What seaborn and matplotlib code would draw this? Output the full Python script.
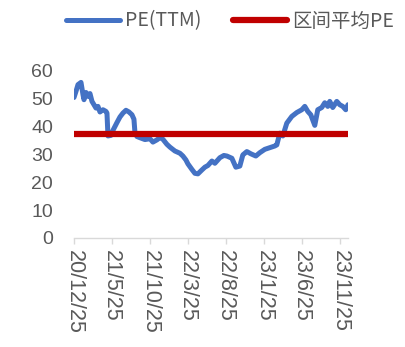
import matplotlib
matplotlib.use("Agg")
import matplotlib.pyplot as plt
from matplotlib.lines import Line2D
from matplotlib.font_manager import FontProperties
import seaborn as sns
import pandas as pd

# PE (TTM) observations
dates = [
    "2020-12-25", "2021-01-02", "2021-01-10", "2021-01-22", "2021-01-30", "2021-02-03",
    "2021-02-11", "2021-02-19", "2021-02-27", "2021-03-07", "2021-03-15", "2021-03-23",
    "2021-03-31", "2021-04-08", "2021-04-20", "2021-05-02", "2021-05-06", "2021-05-10",
    "2021-05-22", "2021-05-30", "2021-06-15", "2021-06-27", "2021-07-09", "2021-07-21",
    "2021-08-02", "2021-08-14", "2021-08-22", "2021-08-26", "2021-09-03", "2021-09-14",
    "2021-10-05", "2021-10-25", "2021-11-06", "2021-11-22", "2021-12-04", "2021-12-16",
    "2022-01-01", "2022-01-13", "2022-02-02", "2022-02-22", "2022-03-06", "2022-03-18",
    "2022-03-26", "2022-04-11", "2022-04-23", "2022-05-05", "2022-05-21", "2022-06-02",
    "2022-06-14", "2022-06-30", "2022-07-12", "2022-08-01", "2022-08-17", "2022-08-29",
    "2022-09-18", "2022-10-04", "2022-10-20", "2022-11-01", "2022-11-17", "2022-12-03",
    "2022-12-23", "2023-01-08", "2023-01-28", "2023-02-17", "2023-03-09", "2023-03-17",
    "2023-03-29", "2023-04-10", "2023-04-26", "2023-05-16", "2023-06-05", "2023-06-25",
    "2023-07-07", "2023-07-19", "2023-07-31", "2023-08-16", "2023-08-28", "2023-09-13",
    "2023-09-25", "2023-10-07", "2023-10-15", "2023-10-27", "2023-11-12", "2023-11-24",
    "2023-12-06", "2023-12-18", "2023-12-27",
]
pe_ttm = [
    50.4, 52.6, 55.0, 55.8, 51.4, 49.6,
    52.2, 50.8, 51.8, 49.0, 47.8, 46.6,
    47.2, 45.2, 46.0, 45.4, 44.8, 36.6,
    36.8, 38.6, 41.4, 43.4, 44.8, 45.8,
    45.2, 44.2, 42.6, 37.8, 36.4, 36.0,
    35.3, 35.6, 34.4, 35.2, 36.0, 35.4,
    33.6, 32.6, 31.2, 30.4, 29.4, 28.0,
    26.6, 24.6, 23.2, 23.0, 24.4, 25.4,
    26.0, 27.6, 26.8, 28.8, 29.6, 29.4,
    28.6, 25.4, 25.8, 29.8, 31.0, 30.2,
    29.4, 30.6, 31.8, 32.4, 33.0, 33.4,
    37.6, 36.6, 41.2, 43.6, 45.0, 46.0,
    47.2, 45.4, 44.2, 40.4, 46.0, 46.8,
    48.5, 47.2, 49.0, 46.8, 49.0, 47.8,
    47.2, 46.0, 47.8,
]
avg_pe = 37.4

tick_dates = ["2020-12-25", "2021-05-25", "2021-10-25", "2022-03-25",
              "2022-08-25", "2023-01-25", "2023-06-25", "2023-11-25"]
tick_labels = ["20/12/25", "21/5/25", "21/10/25", "22/3/25",
               "22/8/25", "23/1/25", "23/6/25", "23/11/25"]
y_ticks = [0, 10, 20, 30, 40, 50, 60]

series_names = ["PE(TTM)", "区间平均PE"]
colors = ["#4472C4", "#C00000"]

df = pd.DataFrame({"date": pd.to_datetime(dates), "pe": pe_ttm})
df["avg"] = avg_pe

sns.set_style("white")
plt.rcParams["font.family"] = ["Liberation Sans", "DejaVu Sans"]
text_color = "#595959"

W, H = 406, 347
fig = plt.figure(figsize=(W / 100, H / 100), dpi=100)
ax = fig.add_axes([74 / W, 1 - 238 / H, (348 - 74) / W, (238 - 70.7) / H])

sns.lineplot(data=df, x="date", y="pe", ax=ax, color=colors[0], lw=3.6,
             solid_capstyle="round", solid_joinstyle="round", legend=False)
sns.lineplot(data=df, x="date", y="avg", ax=ax, color=colors[1], lw=4.5,
             solid_capstyle="butt", legend=False)

ax.set_xlim(df["date"].iloc[0], df["date"].iloc[-1])
ax.set_ylim(0, 60)
ax.set_yticks(y_ticks)
ax.set_xticks(pd.to_datetime(tick_dates))
ax.set_xticklabels(tick_labels, rotation=270, ha="center", va="top")
ax.set_xlabel("")
ax.set_ylabel("")

for side in ["top", "right", "left"]:
    ax.spines[side].set_visible(False)
ax.spines["bottom"].set_color("#D9D9D9")
ax.spines["bottom"].set_linewidth(1.0)

ax.tick_params(axis="x", bottom=True, length=4.5, width=1.0, color="#D9D9D9",
               labelsize=15.5, labelcolor=text_color, pad=4)
ax.tick_params(axis="y", left=False, length=0, labelsize=14,
               labelcolor=text_color, pad=15)

handles = [
    Line2D([], [], color=colors[0], lw=3.6, solid_capstyle="round"),
    Line2D([], [], color=colors[1], lw=4.5, solid_capstyle="round"),
]
fig.legend(handles, series_names, loc="center left",
           bbox_to_anchor=(66 / W, 1 - 21 / H), ncol=2, frameon=False,
           borderpad=0, borderaxespad=0, handlelength=2.8, handletextpad=0.25,
           columnspacing=1.6, labelcolor=text_color,
           prop=FontProperties(family=["Noto Sans CJK SC", "DejaVu Sans"], size=14))

fig.savefig("out.png", dpi=100)
